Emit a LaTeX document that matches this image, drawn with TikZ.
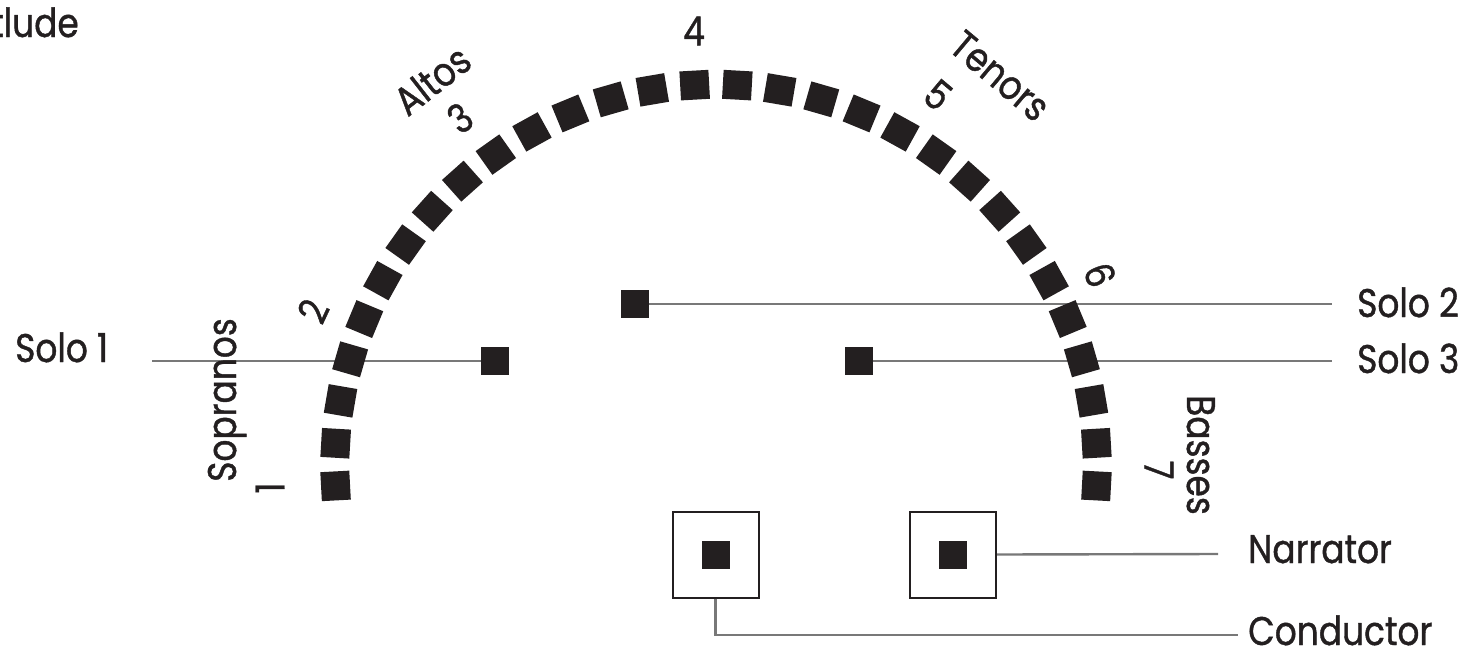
\documentclass[tikz,border=0pt]{standalone}
\usepackage{fontspec}
\setmainfont{Poppins}[FakeStretch=0.86, FakeBold=1]
\usepackage{tikz}
\usetikzlibrary{calc}
\definecolor{ink}{RGB}{35,31,32}
\definecolor{wire}{RGB}{120,120,120}

\tikzset{
  seat/.style={fill=ink, minimum size=29pt, inner sep=0pt},
  solo/.style={fill=ink, minimum size=28pt, inner sep=0pt},
  podium/.style={draw=ink, line width=2pt, fill=white, minimum size=86pt, inner sep=0pt},
  lead/.style={draw=wire, line width=2.4pt},
  lbl/.style={font=\fontsize{40}{46}\selectfont, text=ink, inner sep=0pt}
}

\begin{document}
\begin{tikzpicture}[x=1pt, y=-1pt]
  \useasboundingbox (0,0) rectangle (1475,656);
  % heading, cut at the left
  \node[lbl, anchor=base west] (head) at (-9,37) {tlude};
  % free ends of the leader lines
  \coordinate (solo1end) at (152,361);
  \coordinate (solo2end) at (1332,304);
  \coordinate (solo3end) at (1332,361);
  \coordinate (narrend) at (1218,554);
  \coordinate (condend) at (1238,635);
  % soloists
  \node[solo] (solo1) at (495,361) {};
  \node[solo] (solo2) at (635,304) {};
  \node[solo] (solo3) at (859,361) {};
  \draw[lead] (solo1end) -- (solo1.west);
  \draw[lead] (solo2.east) -- (solo2end);
  \draw[lead] (solo3.east) -- (solo3end);
  % choir arc: 30 seats
  \foreach \i in {0,...,29} {
    \pgfmathsetmacro\ang{183.07-\i*6.4186}
    \node[seat, rotate=\ang-90] (seat\i) at ({716+381*cos(\ang)},{465.5-381*sin(\ang)}) {};
  }
  % conductor and narrator
  \node[podium] (cond) at (715.5,554.5) {};
  \node[solo] (condseat) at (cond) {};
  \node[podium] (narr) at (953,554.5) {};
  \node[solo] (narrseat) at (narr) {};
  \draw[lead] (narr.east) -- (narrend);
  \draw[lead] (cond.south) |- (condend);
  % labels on the right and left
  \node[lbl, anchor=base west] (solo1lbl) at (15,362) {Solo 1};
  \node[lbl, anchor=base west] (solo2lbl) at (1357,317) {Solo 2};
  \node[lbl, anchor=base west] (solo3lbl) at (1357,373) {Solo 3};
  \node[lbl, anchor=base west] (narrlbl) at (1248,563) {Narrator};
  \node[lbl, anchor=base west] (condlbl) at (1248,645) {Conductor};
  % sections and numbers round the arc
  \node[lbl, rotate=90] (n1) at (270,488) {1};
  \node[lbl, rotate=90, anchor=base] (sopr) at (236,400) {Sopranos};
  \node[lbl, rotate=65] (n2) at (313,311) {2};
  \node[lbl, rotate=38] (alto) at (432,80) {Altos};
  \node[lbl, rotate=35] (n3) at (460,118) {3};
  \node[lbl] (n4) at (694,31) {4};
  \node[lbl, rotate=-40] (teno) at (1000,76) {Tenors};
  \node[lbl, rotate=-40] (n5) at (938,95) {5};
  \node[lbl, rotate=-70] (n6) at (1100,275) {6};
  \node[lbl, rotate=-90] (n7) at (1159,470) {7};
  \node[lbl, rotate=-90, anchor=base] (bass) at (1187,455) {Basses};
\end{tikzpicture}
\end{document}
